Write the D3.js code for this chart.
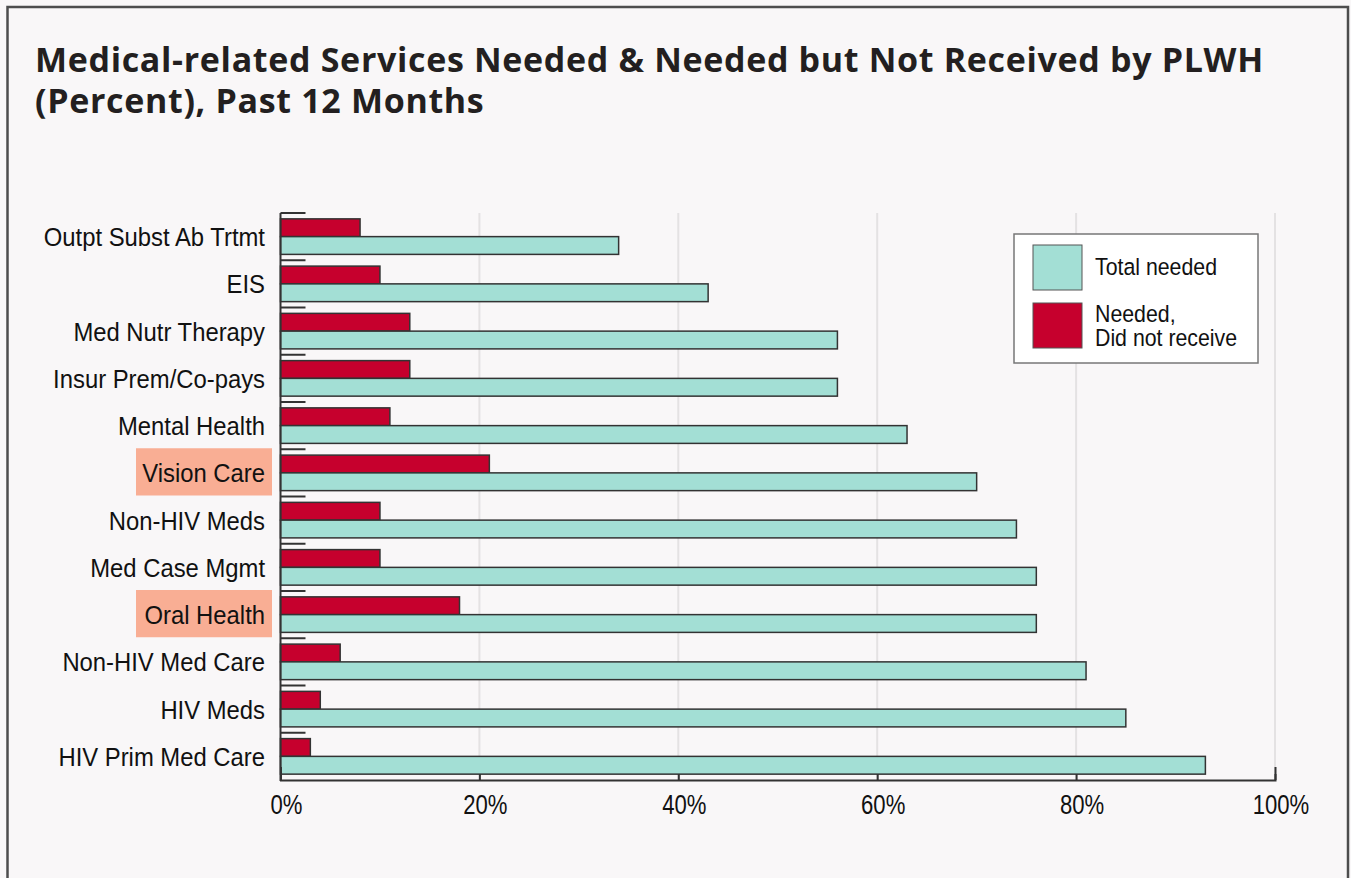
<!DOCTYPE html>
<html>
<head>
<meta charset="utf-8">
<script src="https://cdnjs.cloudflare.com/ajax/libs/d3/7.8.5/d3.min.js"></script>
<style>
  body { margin: 0; background: #f9f7f8; }
  svg { display: block; }
</style>
</head>
<body>
<div class="wrapper"></div>
<script>
    // services, top to bottom
    var categories = ["Outpt Subst Ab Trtmt", "EIS", "Med Nutr Therapy", "Insur Prem/Co-pays",
        "Mental Health", "Vision Care", "Non-HIV Meds", "Med Case Mgmt", "Oral Health",
        "Non-HIV Med Care", "HIV Meds", "HIV Prim Med Care"];
    var notReceived = [8, 10, 13, 13, 11, 21, 10, 10, 18, 6, 4, 3];
    var totalNeeded = [34, 43, 56, 56, 63, 70, 74, 76, 76, 81, 85, 93];
    var highlighted = ["Vision Care", "Oral Health"];
    var xTicks = [0, 20, 40, 60, 80, 100];
    var seriesNames = ["Needed, Did not receive", "Total needed"];

    var w = 1351,
        h = 878,
        percent = function(d) { return d + "%"; },
        armo = "'Liberation Sans', Arial, sans-serif";

    var svg = d3.select(".wrapper").append("svg")
        .attr("width", w)
        .attr("height", h);

    svg.append("rect")
        .attr("width", w).attr("height", h)
        .attr("fill", "#f9f7f8");

    // outer frame (runs off the bottom of the picture)
    svg.append("rect")
        .attr("x", 7.5).attr("y", 7)
        .attr("width", 1340.5).attr("height", 900)
        .attr("fill", "none")
        .attr("stroke", "#4d4d4d")
        .attr("stroke-width", 2.5);

    var title = svg.append("text")
        .attr("font-family", "'Open Sans', Lato, sans-serif")
        .attr("font-weight", 700)
        .attr("font-size", 34)
        .attr("fill", "#231f20");
    var t1 = title.append("tspan").attr("x", 35).attr("y", 72)
        .text("Medical-related Services Needed & Needed but Not Received by PLWH");
    title.append("tspan").attr("x", 35).attr("y", 113)
        .text("(Percent), Past 12 Months");
    // adjust the spacing so line 1 spans the same width as the original
    var len = t1.node().getComputedTextLength(),
        nch = t1.text().length;
    title.attr("letter-spacing", ((1228 - len) / (nch - 1)).toFixed(2));

    var plotL = 280.5, plotR = 1275, plotT = 213, plotB = 780;

    var x = d3.scaleLinear().domain([0, 100]).range([plotL, plotR]);
    var y = d3.scaleBand().domain(categories).range([plotT, plotB]).padding(0);
    var inner = d3.scaleBand().domain(seriesNames).range([0, y.bandwidth()])
        .paddingInner(0).paddingOuter(0.33);

    var rows = categories.map(function(c, i) {
      return { name: c, values: [notReceived[i], totalNeeded[i]] };
    });

    // vertical gridlines
    svg.append("g").selectAll("line")
        .data(xTicks.filter(function(d) { return d > 0; }))
      .enter().append("line")
        .attr("x1", function(d) { return x(d); })
        .attr("x2", function(d) { return x(d); })
        .attr("y1", plotT).attr("y2", plotB)
        .attr("stroke", "#e4e2e3")
        .attr("stroke-width", 2);

    // highlight boxes behind labels
    svg.append("g").selectAll("rect")
        .data(highlighted)
      .enter().append("rect")
        .attr("x", 136)
        .attr("y", function(d) { return y(d) - 1; })
        .attr("width", 136)
        .attr("height", y.bandwidth())
        .attr("fill", "#f9ae94");

    var colors = ["#c6002d", "#a3dfd5"];

    var row = svg.append("g").selectAll("g")
        .data(rows)
      .enter().append("g")
        .attr("transform", function(d) { return "translate(0," + y(d.name) + ")"; });

    row.selectAll("rect")
        .data(function(d) { return d.values; })
      .enter().append("rect")
        .attr("x", x(0))
        .attr("y", function(d, i) { return inner(seriesNames[i]); })
        .attr("width", function(d) { return x(d) - x(0); })
        .attr("height", inner.bandwidth())
        .attr("fill", function(d, i) { return colors[i]; })
        .attr("stroke", "#333")
        .attr("stroke-width", 1.5);

    // small ticks at top of each band
    row.append("line")
        .attr("x1", x(0)).attr("x2", x(0) + 25)
        .attr("y1", 0).attr("y2", 0)
        .attr("stroke", "#333")
        .attr("stroke-width", 2);

    // narrow Arial look: scale text horizontally
    row.append("text")
        .attr("transform", "translate(265," + (y.bandwidth() / 2) + ") scale(0.9,1)")
        .attr("dy", "0.36em")
        .attr("text-anchor", "end")
        .attr("font-family", armo)
        .attr("font-size", 26.5)
        .attr("fill", "#111")
        .text(function(d) { return d.name; });

    // left axis line
    svg.append("line")
        .attr("x1", x(0)).attr("x2", x(0))
        .attr("y1", plotT).attr("y2", plotB + 1)
        .attr("stroke", "#333").attr("stroke-width", 2);

    var xAxis = d3.axisBottom(x)
        .tickValues(xTicks)
        .tickFormat(percent)
        .tickSizeInner(-6)
        .tickSizeOuter(-13)
        .tickPadding(0);

    var gx = svg.append("g")
        .attr("transform", "translate(0," + plotB + ")")
        .call(xAxis);
    gx.select(".domain").attr("stroke", "#333").attr("stroke-width", 2);
    gx.selectAll(".tick line").attr("stroke", "#333").attr("stroke-width", 2);
    gx.selectAll(".tick text")
        .attr("y", null).attr("dy", null)
        .attr("transform", "translate(5.5,34) scale(0.82,1)")
        .attr("font-family", armo)
        .attr("font-size", 27)
        .attr("fill", "#111");

    // legend
    var legend = svg.append("g").attr("transform", "translate(1014,234)");
    legend.append("rect")
        .attr("width", 244).attr("height", 129)
        .attr("fill", "#fff")
        .attr("stroke", "#777").attr("stroke-width", 1.5);

    var legendItems = [
      { color: colors[1], lines: ["Total needed"], y: 11 },
      { color: colors[0], lines: ["Needed,", "Did not receive"], y: 69 }
    ];
    var li = legend.selectAll(".item")
        .data(legendItems)
      .enter().append("g")
        .attr("class", "item")
        .attr("transform", function(d) { return "translate(19," + d.y + ")"; });
    li.append("rect")
        .attr("width", 49).attr("height", 45)
        .attr("fill", function(d) { return d.color; })
        .attr("stroke", "#555").attr("stroke-width", 1);
    li.append("g")
        .attr("transform", "translate(62,0) scale(0.87,1)")
      .append("text")
        .attr("font-family", armo)
        .attr("font-size", 24.5)
        .attr("fill", "#111")
        .selectAll("tspan")
        .data(function(d) { return d.lines.map(function(l, i) { return { t: l, i: i, n: d.lines.length }; }); })
      .enter().append("tspan")
        .attr("x", 0)
        .attr("y", function(d) { return d.n === 1 ? 30 : 19 + d.i * 24; })
        .text(function(d) { return d.t; });
</script>
</body>
</html>
